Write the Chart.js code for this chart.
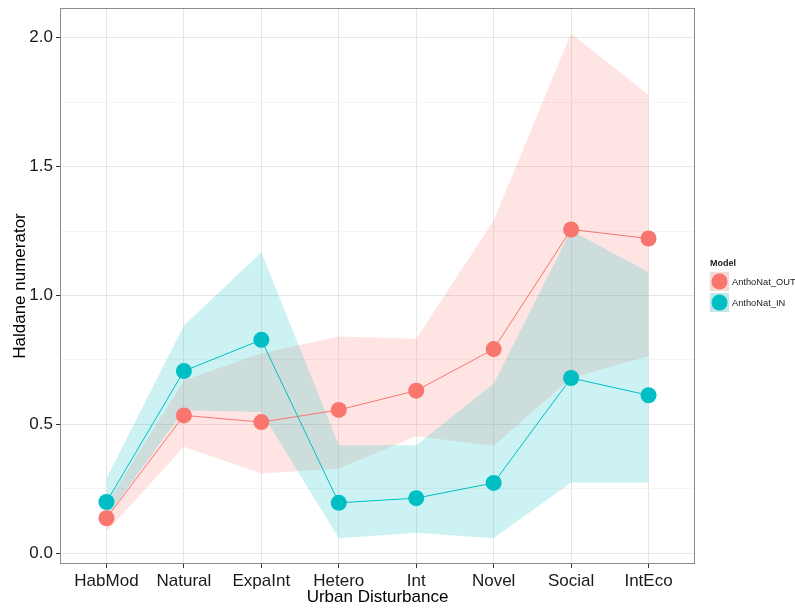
<!DOCTYPE html>
<html>
<head>
<meta charset="utf-8">
<title>Haldane numerator by urban disturbance</title>
<script src="https://cdn.jsdelivr.net/npm/chart.js@4/dist/chart.umd.min.js"></script>
<style>
  html, body { margin: 0; padding: 0; background: #ffffff; }
  #wrap { width: 795px; height: 610px; }
</style>
</head>
<body>
<div id="wrap"><canvas id="chart" width="795" height="610"></canvas></div>
<script>
// Urban disturbance categories (x axis)
const categories = ['HabMod', 'Natural', 'ExpaInt', 'Hetero', 'Int', 'Novel', 'Social', 'IntEco'];

// AnthoNat_OUT: estimate and interval
const outMean  = [0.136, 0.535, 0.509, 0.556, 0.631, 0.792, 1.256, 1.221];
const outLower = [0.084, 0.413, 0.310, 0.329, 0.454, 0.417, 0.680, 0.764];
const outUpper = [0.190, 0.671, 0.775, 0.841, 0.832, 1.291, 2.016, 1.778];

// AnthoNat_IN: estimate and interval
const inMean  = [0.199, 0.707, 0.828, 0.196, 0.214, 0.273, 0.680, 0.613];
const inLower = [0.140, 0.555, 0.548, 0.058, 0.080, 0.058, 0.275, 0.275];
const inUpper = [0.290, 0.884, 1.168, 0.419, 0.419, 0.658, 1.252, 1.090];

// Axis ticks: labelled y ticks, with minor grid lines halfway between them
const yTicks = [0.0, 0.5, 1.0, 1.5, 2.0];
const yMinorTicks = [0.25, 0.75, 1.25, 1.75];

const seriesNames = ['AnthoNat_OUT', 'AnthoNat_IN'];
const COL_OUT = '#F8766D';
const COL_IN = '#00BFC4';
const FILL_OUT = 'rgba(248,118,109,0.2)';
const FILL_IN = 'rgba(0,191,196,0.2)';
const FONT = "'Liberation Sans', Arial, sans-serif";

const toXY = arr => arr.map((v, i) => ({ x: i, y: v }));

function bandEdge(data, label) {
  return {
    label: label,
    data: toXY(data),
    borderWidth: 0,
    borderColor: 'rgba(0,0,0,0)',
    pointRadius: 0,
    pointHoverRadius: 0,
    fill: false
  };
}

function bandTop(data, label, fillColor) {
  return {
    label: label,
    data: toXY(data),
    borderWidth: 0,
    borderColor: 'rgba(0,0,0,0)',
    backgroundColor: fillColor,
    pointRadius: 0,
    pointHoverRadius: 0,
    fill: '-1'
  };
}

function meanLine(data, label, color) {
  return {
    label: label,
    data: toXY(data),
    borderColor: color,
    borderWidth: 1,
    backgroundColor: color,
    pointBackgroundColor: color,
    pointBorderWidth: 0,
    pointRadius: 8,
    pointHoverRadius: 8,
    fill: false
  };
}

// Panel border plus the "Model" legend on the right
const panelAndLegend = {
  id: 'panelAndLegend',
  afterDraw(chart) {
    const { ctx, chartArea: a } = chart;
    ctx.save();
    ctx.strokeStyle = '#8c8c8c';
    ctx.lineWidth = 1;
    ctx.strokeRect(a.left + 0.5, a.top + 0.5, a.right - a.left - 1, a.bottom - a.top - 1);

    const lx = 709, ly = 271, key = 21;
    ctx.fillStyle = '#1a1a1a';
    ctx.font = "bold 9px " + FONT;
    ctx.textAlign = 'left';
    ctx.textBaseline = 'middle';
    ctx.fillText('Model', lx + 1, 264);

    const cols = [COL_OUT, COL_IN];
    const fills = [FILL_OUT, FILL_IN];
    seriesNames.forEach((name, i) => {
      const y = ly + i * key;
      ctx.fillStyle = '#f2f2f2';
      ctx.fillRect(lx, y, key, key);
      ctx.fillStyle = fills[i];
      ctx.fillRect(lx, y, key, key);
      ctx.strokeStyle = 'rgba(255,255,255,0.9)';
      ctx.lineWidth = 1;
      ctx.strokeRect(lx + 0.5, y + 0.5, key - 1, key - 1);
      ctx.beginPath();
      ctx.arc(lx + key / 2, y + key / 2, 8, 0, Math.PI * 2);
      ctx.fillStyle = cols[i];
      ctx.fill();
      ctx.fillStyle = '#1a1a1a';
      ctx.font = "9.3px " + FONT;
      ctx.fillText(name, lx + key + 2, y + key / 2 + 0.5);
    });
    ctx.restore();
  }
};

const isMajor = v => yTicks.some(t => Math.abs(t - v) < 1e-9);

new Chart(document.getElementById('chart'), {
  type: 'line',
  data: {
    datasets: [
      meanLine(inMean, seriesNames[1], COL_IN),
      meanLine(outMean, seriesNames[0], COL_OUT),
      bandEdge(inLower, 'in_lower'),
      bandTop(inUpper, 'in_upper', FILL_IN),
      bandEdge(outLower, 'out_lower'),
      bandTop(outUpper, 'out_upper', FILL_OUT)
    ]
  },
  options: {
    responsive: false,
    animation: false,
    devicePixelRatio: 1,
    layout: { padding: { top: 7, right: 100, left: 0, bottom: 0 } },
    plugins: {
      legend: { display: false },
      tooltip: { enabled: false },
      filler: { drawTime: 'beforeDatasetsDraw' }
    },
    scales: {
      x: {
        type: 'linear',
        min: -0.6,
        max: categories.length - 1 + 0.6,
        afterBuildTicks(scale) {
          scale.ticks = categories.map((c, i) => ({ value: i }));
        },
        afterFit(scale) {
          scale.height = 46;
          scale.paddingLeft = 0;
          scale.paddingRight = 0;
        },
        border: { display: false },
        grid: {
          color: '#e6e6e6',
          lineWidth: 1,
          drawTicks: true,
          tickLength: 4,
          tickColor: '#333333'
        },
        ticks: {
          autoSkip: false,
          maxRotation: 0,
          padding: 3,
          color: '#1a1a1a',
          font: { family: FONT, size: 17 },
          callback: v => categories[v]
        },
        title: {
          display: true,
          text: 'Urban Disturbance',
          color: '#000000',
          font: { family: FONT, size: 17 },
          padding: { top: 0, bottom: 2 }
        }
      },
      y: {
        type: 'linear',
        min: -0.0414,
        max: 2.115,
        afterBuildTicks(scale) {
          scale.ticks = yTicks.concat(yMinorTicks).sort((a, b) => a - b).map(v => ({ value: v }));
        },
        afterFit(scale) {
          scale.width = 60;
          scale.paddingTop = 0;
          scale.paddingBottom = 0;
        },
        border: { display: false },
        grid: {
          color: ctx => isMajor(ctx.tick.value) ? '#e6e6e6' : '#f4f4f4',
          lineWidth: 1,
          drawTicks: true,
          tickLength: 4,
          tickColor: ctx => isMajor(ctx.tick.value) ? '#333333' : 'rgba(0,0,0,0)'
        },
        ticks: {
          autoSkip: false,
          padding: 3,
          color: '#1a1a1a',
          font: { family: FONT, size: 17 },
          callback: v => isMajor(v) ? v.toFixed(1) : ''
        },
        title: {
          display: true,
          text: 'Haldane numerator',
          color: '#000000',
          font: { family: FONT, size: 17 },
          padding: { top: 10, bottom: 0 }
        }
      }
    }
  },
  plugins: [panelAndLegend]
});
</script>
</body>
</html>
